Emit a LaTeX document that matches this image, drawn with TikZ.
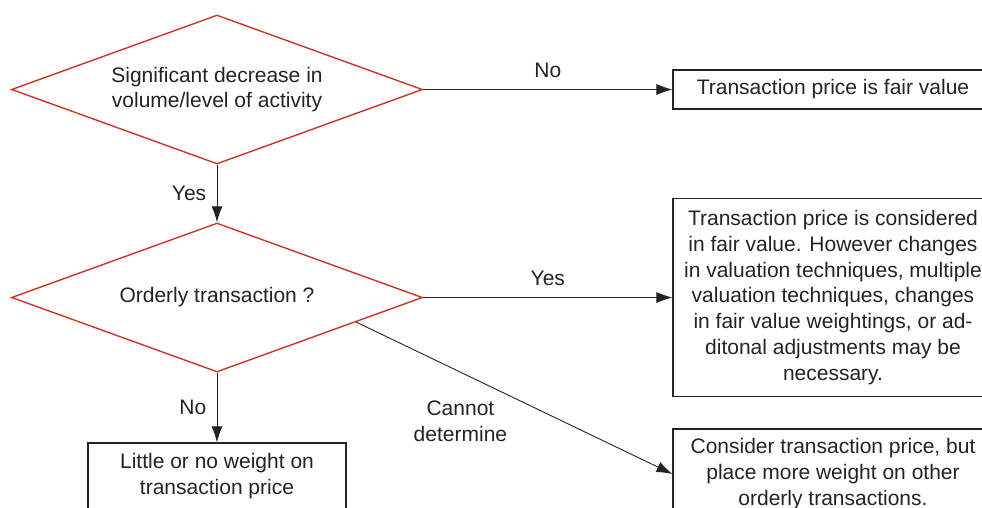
\documentclass[tikz,border=0pt]{standalone}
\usepackage{fontspec}
\setmainfont{Liberation Sans}
\usetikzlibrary{shapes.geometric,arrows.meta}
\definecolor{decred}{RGB}{200,55,35}
\definecolor{inkgray}{RGB}{35,35,35}

\begin{document}
\begin{tikzpicture}[x=1pt,y=-1pt,
  every node/.style={font=\fontsize{21}{25.7}\selectfont, text=inkgray},
  decision/.style={diamond, draw=decred, line width=1.4pt, aspect=2.76, inner sep=0pt,
    minimum width=411pt, minimum height=149pt, align=center},
  outcome/.style={draw=inkgray, line width=1.1pt, align=center, inner sep=0pt, minimum width=320pt},
  flow/.style={draw=inkgray, line width=0.9pt, -{Latex[length=16pt,width=11pt]}}]
  \useasboundingbox (0,0) rectangle (982,507);

  % decisions
  \node[decision] (decrease) at (217,89.5) {Significant decrease in\\volume/level of activity};
  \node[decision] (orderly) at (217,297.5) {Orderly transaction ?};

  % outcomes
  \node[outcome, minimum height=39pt] (fair) at (833,89.5) {Transaction price is fair value};
  \node[outcome, minimum height=198pt] (considered) at (833,297.5)
    {Transaction price is considered\\in fair value. However changes\\in valuation techniques, multiple\\valuation techniques, changes\\in fair value weightings, or ad-\\ditonal adjustments may be\\necessary.};
  \node[outcome, minimum height=90pt] (consider) at (833,474)
    {Consider transaction price, but\\place more weight on other\\orderly transactions.};
  \node[outcome, minimum width=258pt, minimum height=66pt] (little) at (217,476)
    {Little or no weight on\\transaction price};

  % connectors
  \draw[flow] (decrease.east) -- node[above=8pt] {No} (fair.west);
  \draw[flow] (decrease.south) -- node[left=7pt] {Yes} (orderly.north);
  \draw[flow] (orderly.east) -- node[above=8pt] {Yes} (considered.west);
  \draw[flow] (orderly.south) -- node[left=7pt] {No} (little.north);
  \draw[flow] (orderly.-10.4) -- node[pos=0.33, below=25pt, align=center] {Cannot\\determine} (consider.west);
\end{tikzpicture}
\end{document}
